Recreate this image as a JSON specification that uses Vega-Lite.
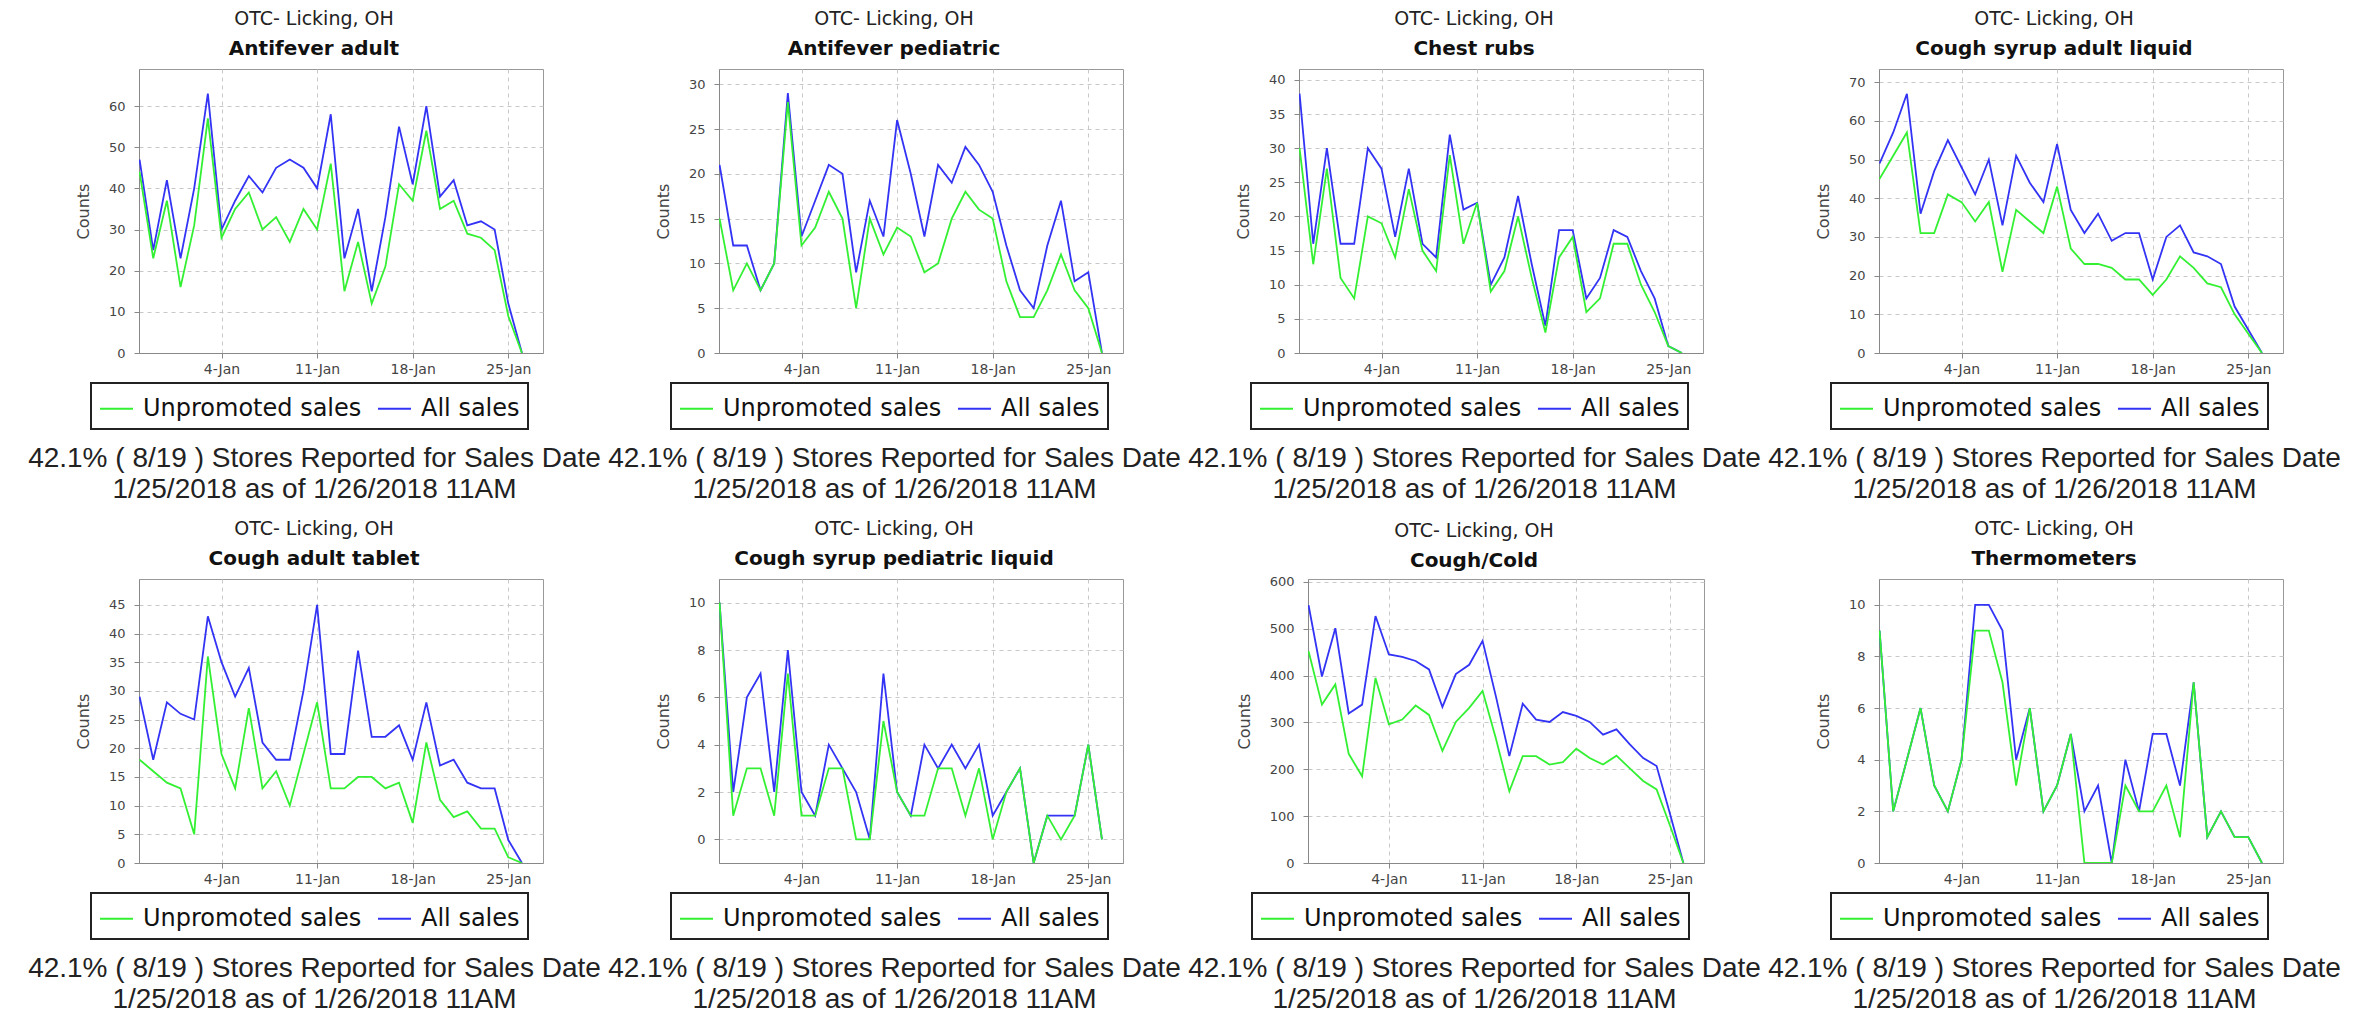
{
"$schema": "https://vega.github.io/schema/vega-lite/v6.json",
"background": "white",
"padding": {"left": 27, "top": 9, "right": 5, "bottom": 2},
"config": {
  "view": {"stroke": "#999999", "strokeWidth": 1},
  "line": {"strokeWidth": 1.8},
  "axis": {"labelFont": "DejaVu Sans", "labelColor": "#444444", "tickColor": "#888888", "tickSize": 5, "domainColor": "#888888", "grid": true, "gridColor": "#c8c8c8", "gridDash": [4, 4], "gridWidth": 1},
  "axisX": {"labelFontSize": 14, "labelPadding": 4, "titleFont": "Liberation Sans", "titleFontSize": 28, "titleFontWeight": "normal", "titleColor": "#222222", "titleLineHeight": 31, "titlePadding": 68, "labelFlush": false},
  "axisY": {"labelFontSize": 13, "labelPadding": 9, "titleFont": "DejaVu Sans", "titleFontSize": 16, "titleFontWeight": "normal", "titleColor": "#444444", "titlePadding": 17},
  "title": {"font": "DejaVu Sans", "fontSize": 19, "fontWeight": "normal", "color": "#222222", "subtitleFont": "DejaVu Sans", "subtitleFontSize": 20, "subtitleFontWeight": "bold", "subtitleColor": "#111111", "subtitlePadding": 10, "offset": 10, "anchor": "middle", "frame": "bounds"},
  "legend": {"orient": "none", "direction": "horizontal", "labelFont": "DejaVu Sans", "labelFontSize": 24, "labelColor": "#111111", "symbolType": "stroke", "symbolSize": 1089, "symbolStrokeWidth": 3, "labelOffset": 9, "columnPadding": 12, "padding": 8, "fillColor": "white", "strokeColor": "#222222", "strokeWidth": 2, "labelLimit": 400}
},
"datasets": {
"p1": [
{"d":"2017-12-29","a":47,"u":44},{"d":"2017-12-30","a":25,"u":23},{"d":"2017-12-31","a":42,"u":37},{"d":"2018-01-01","a":23,"u":16},{"d":"2018-01-02","a":40,"u":31},{"d":"2018-01-03","a":63,"u":57},{"d":"2018-01-04","a":30,"u":28},{"d":"2018-01-05","a":37,"u":35},{"d":"2018-01-06","a":43,"u":39},{"d":"2018-01-07","a":39,"u":30},{"d":"2018-01-08","a":45,"u":33},{"d":"2018-01-09","a":47,"u":27},{"d":"2018-01-10","a":45,"u":35},{"d":"2018-01-11","a":40,"u":30},{"d":"2018-01-12","a":58,"u":46},{"d":"2018-01-13","a":23,"u":15},{"d":"2018-01-14","a":35,"u":27},{"d":"2018-01-15","a":15,"u":12},{"d":"2018-01-16","a":33,"u":21},{"d":"2018-01-17","a":55,"u":41},{"d":"2018-01-18","a":41,"u":37},{"d":"2018-01-19","a":60,"u":54},{"d":"2018-01-20","a":38,"u":35},{"d":"2018-01-21","a":42,"u":37},{"d":"2018-01-22","a":31,"u":29},{"d":"2018-01-23","a":32,"u":28},{"d":"2018-01-24","a":30,"u":25},{"d":"2018-01-25","a":12,"u":9},{"d":"2018-01-26","a":0,"u":0}],
"p2": [
{"d":"2017-12-29","a":21,"u":15},{"d":"2017-12-30","a":12,"u":7},{"d":"2017-12-31","a":12,"u":10},{"d":"2018-01-01","a":7,"u":7},{"d":"2018-01-02","a":10,"u":10},{"d":"2018-01-03","a":29,"u":28},{"d":"2018-01-04","a":13,"u":12},{"d":"2018-01-05","a":17,"u":14},{"d":"2018-01-06","a":21,"u":18},{"d":"2018-01-07","a":20,"u":15},{"d":"2018-01-08","a":9,"u":5},{"d":"2018-01-09","a":17,"u":15},{"d":"2018-01-10","a":13,"u":11},{"d":"2018-01-11","a":26,"u":14},{"d":"2018-01-12","a":20,"u":13},{"d":"2018-01-13","a":13,"u":9},{"d":"2018-01-14","a":21,"u":10},{"d":"2018-01-15","a":19,"u":15},{"d":"2018-01-16","a":23,"u":18},{"d":"2018-01-17","a":21,"u":16},{"d":"2018-01-18","a":18,"u":15},{"d":"2018-01-19","a":12,"u":8},{"d":"2018-01-20","a":7,"u":4},{"d":"2018-01-21","a":5,"u":4},{"d":"2018-01-22","a":12,"u":7},{"d":"2018-01-23","a":17,"u":11},{"d":"2018-01-24","a":8,"u":7},{"d":"2018-01-25","a":9,"u":5},{"d":"2018-01-26","a":0,"u":0}],
"p3": [
{"d":"2017-12-29","a":38,"u":30},{"d":"2017-12-30","a":16,"u":13},{"d":"2017-12-31","a":30,"u":27},{"d":"2018-01-01","a":16,"u":11},{"d":"2018-01-02","a":16,"u":8},{"d":"2018-01-03","a":30,"u":20},{"d":"2018-01-04","a":27,"u":19},{"d":"2018-01-05","a":17,"u":14},{"d":"2018-01-06","a":27,"u":24},{"d":"2018-01-07","a":16,"u":15},{"d":"2018-01-08","a":14,"u":12},{"d":"2018-01-09","a":32,"u":29},{"d":"2018-01-10","a":21,"u":16},{"d":"2018-01-11","a":22,"u":22},{"d":"2018-01-12","a":10,"u":9},{"d":"2018-01-13","a":14,"u":12},{"d":"2018-01-14","a":23,"u":20},{"d":"2018-01-15","a":13,"u":11},{"d":"2018-01-16","a":4,"u":3},{"d":"2018-01-17","a":18,"u":14},{"d":"2018-01-18","a":18,"u":17},{"d":"2018-01-19","a":8,"u":6},{"d":"2018-01-20","a":11,"u":8},{"d":"2018-01-21","a":18,"u":16},{"d":"2018-01-22","a":17,"u":16},{"d":"2018-01-23","a":12,"u":10},{"d":"2018-01-24","a":8,"u":6},{"d":"2018-01-25","a":1,"u":1},{"d":"2018-01-26","a":0,"u":0}],
"p4": [
{"d":"2017-12-29","a":49,"u":45},{"d":"2017-12-30","a":57,"u":51},{"d":"2017-12-31","a":67,"u":57},{"d":"2018-01-01","a":36,"u":31},{"d":"2018-01-02","a":47,"u":31},{"d":"2018-01-03","a":55,"u":41},{"d":"2018-01-04","a":48,"u":39},{"d":"2018-01-05","a":41,"u":34},{"d":"2018-01-06","a":50,"u":39},{"d":"2018-01-07","a":33,"u":21},{"d":"2018-01-08","a":51,"u":37},{"d":"2018-01-09","a":44,"u":34},{"d":"2018-01-10","a":39,"u":31},{"d":"2018-01-11","a":54,"u":43},{"d":"2018-01-12","a":37,"u":27},{"d":"2018-01-13","a":31,"u":23},{"d":"2018-01-14","a":36,"u":23},{"d":"2018-01-15","a":29,"u":22},{"d":"2018-01-16","a":31,"u":19},{"d":"2018-01-17","a":31,"u":19},{"d":"2018-01-18","a":19,"u":15},{"d":"2018-01-19","a":30,"u":19},{"d":"2018-01-20","a":33,"u":25},{"d":"2018-01-21","a":26,"u":22},{"d":"2018-01-22","a":25,"u":18},{"d":"2018-01-23","a":23,"u":17},{"d":"2018-01-24","a":12,"u":10},{"d":"2018-01-25","a":6,"u":5},{"d":"2018-01-26","a":0,"u":0}],
"p5": [
{"d":"2017-12-29","a":29,"u":18},{"d":"2017-12-30","a":18,"u":16},{"d":"2017-12-31","a":28,"u":14},{"d":"2018-01-01","a":26,"u":13},{"d":"2018-01-02","a":25,"u":5},{"d":"2018-01-03","a":43,"u":36},{"d":"2018-01-04","a":35,"u":19},{"d":"2018-01-05","a":29,"u":13},{"d":"2018-01-06","a":34,"u":27},{"d":"2018-01-07","a":21,"u":13},{"d":"2018-01-08","a":18,"u":16},{"d":"2018-01-09","a":18,"u":10},{"d":"2018-01-10","a":30,"u":19},{"d":"2018-01-11","a":45,"u":28},{"d":"2018-01-12","a":19,"u":13},{"d":"2018-01-13","a":19,"u":13},{"d":"2018-01-14","a":37,"u":15},{"d":"2018-01-15","a":22,"u":15},{"d":"2018-01-16","a":22,"u":13},{"d":"2018-01-17","a":24,"u":14},{"d":"2018-01-18","a":18,"u":7},{"d":"2018-01-19","a":28,"u":21},{"d":"2018-01-20","a":17,"u":11},{"d":"2018-01-21","a":18,"u":8},{"d":"2018-01-22","a":14,"u":9},{"d":"2018-01-23","a":13,"u":6},{"d":"2018-01-24","a":13,"u":6},{"d":"2018-01-25","a":4,"u":1},{"d":"2018-01-26","a":0,"u":0}],
"p6": [
{"d":"2017-12-29","a":10,"u":10},{"d":"2017-12-30","a":2,"u":1},{"d":"2017-12-31","a":6,"u":3},{"d":"2018-01-01","a":7,"u":3},{"d":"2018-01-02","a":2,"u":1},{"d":"2018-01-03","a":8,"u":7},{"d":"2018-01-04","a":2,"u":1},{"d":"2018-01-05","a":1,"u":1},{"d":"2018-01-06","a":4,"u":3},{"d":"2018-01-07","a":3,"u":3},{"d":"2018-01-08","a":2,"u":0},{"d":"2018-01-09","a":0,"u":0},{"d":"2018-01-10","a":7,"u":5},{"d":"2018-01-11","a":2,"u":2},{"d":"2018-01-12","a":1,"u":1},{"d":"2018-01-13","a":4,"u":1},{"d":"2018-01-14","a":3,"u":3},{"d":"2018-01-15","a":4,"u":3},{"d":"2018-01-16","a":3,"u":1},{"d":"2018-01-17","a":4,"u":3},{"d":"2018-01-18","a":1,"u":0},{"d":"2018-01-19","a":2,"u":2},{"d":"2018-01-20","a":3,"u":3},{"d":"2018-01-21","a":-1,"u":-1},{"d":"2018-01-22","a":1,"u":1},{"d":"2018-01-23","a":1,"u":0},{"d":"2018-01-24","a":1,"u":1},{"d":"2018-01-25","a":4,"u":4},{"d":"2018-01-26","a":0,"u":0}],
"p7": [
{"d":"2017-12-29","a":550,"u":452},{"d":"2017-12-30","a":398,"u":338},{"d":"2017-12-31","a":501,"u":381},{"d":"2018-01-01","a":319,"u":233},{"d":"2018-01-02","a":338,"u":185},{"d":"2018-01-03","a":527,"u":395},{"d":"2018-01-04","a":445,"u":296},{"d":"2018-01-05","a":440,"u":306},{"d":"2018-01-06","a":431,"u":336},{"d":"2018-01-07","a":413,"u":316},{"d":"2018-01-08","a":333,"u":239},{"d":"2018-01-09","a":403,"u":301},{"d":"2018-01-10","a":423,"u":331},{"d":"2018-01-11","a":474,"u":367},{"d":"2018-01-12","a":355,"u":265},{"d":"2018-01-13","a":228,"u":153},{"d":"2018-01-14","a":340,"u":228},{"d":"2018-01-15","a":306,"u":228},{"d":"2018-01-16","a":301,"u":210},{"d":"2018-01-17","a":322,"u":215},{"d":"2018-01-18","a":314,"u":244},{"d":"2018-01-19","a":301,"u":224},{"d":"2018-01-20","a":274,"u":210},{"d":"2018-01-21","a":285,"u":229},{"d":"2018-01-22","a":253,"u":202},{"d":"2018-01-23","a":224,"u":175},{"d":"2018-01-24","a":207,"u":157},{"d":"2018-01-25","a":105,"u":80},{"d":"2018-01-26","a":0,"u":0}],
"p8": [
{"d":"2017-12-29","a":9,"u":9},{"d":"2017-12-30","a":2,"u":2},{"d":"2017-12-31","a":4,"u":4},{"d":"2018-01-01","a":6,"u":6},{"d":"2018-01-02","a":3,"u":3},{"d":"2018-01-03","a":2,"u":2},{"d":"2018-01-04","a":4,"u":4},{"d":"2018-01-05","a":10,"u":9},{"d":"2018-01-06","a":10,"u":9},{"d":"2018-01-07","a":9,"u":7},{"d":"2018-01-08","a":4,"u":3},{"d":"2018-01-09","a":6,"u":6},{"d":"2018-01-10","a":2,"u":2},{"d":"2018-01-11","a":3,"u":3},{"d":"2018-01-12","a":5,"u":5},{"d":"2018-01-13","a":2,"u":0},{"d":"2018-01-14","a":3,"u":0},{"d":"2018-01-15","a":0,"u":0},{"d":"2018-01-16","a":4,"u":3},{"d":"2018-01-17","a":2,"u":2},{"d":"2018-01-18","a":5,"u":2},{"d":"2018-01-19","a":5,"u":3},{"d":"2018-01-20","a":3,"u":1},{"d":"2018-01-21","a":7,"u":7},{"d":"2018-01-22","a":1,"u":1},{"d":"2018-01-23","a":2,"u":2},{"d":"2018-01-24","a":1,"u":1},{"d":"2018-01-25","a":1,"u":1},{"d":"2018-01-26","a":0,"u":0}]
},
"spacing": 15,
"resolve": {"scale": {"x": "independent", "y": "independent", "color": "independent"}, "legend": {"color": "independent"}},
"vconcat": [
{"spacing": 6,
 "resolve": {"scale": {"x": "independent", "y": "independent", "color": "independent"}, "legend": {"color": "independent"}},
 "hconcat": [
 {"width": 404, "height": 284, "title": {"text": "OTC- Licking, OH", "subtitle": "Antifever adult"}, "data": {"name": "p1"},
  "transform": [{"fold": ["a", "u"], "as": ["s", "v"]}],
  "mark": {"type": "line", "clip": true},
  "encoding": {
   "x": {"field": "d", "type": "temporal", "scale": {"type": "utc", "domain": [{"year": 2017, "month": 12, "date": 28, "hours": 23, "utc": true}, {"year": 2018, "month": 1, "date": 27, "hours": 13, "utc": true}]}, "axis": {"values": [{"year": 2018, "month": 1, "date": 4, "utc": true}, {"year": 2018, "month": 1, "date": 11, "utc": true}, {"year": 2018, "month": 1, "date": 18, "utc": true}, {"year": 2018, "month": 1, "date": 25, "utc": true}], "format": "%-d-%b", "title": ["42.1% ( 8/19 ) Stores Reported for Sales Date", "1/25/2018 as of 1/26/2018 11AM"], "titleX": 175}},
   "y": {"field": "v", "type": "quantitative", "title": "Counts", "scale": {"domain": [0, 69], "nice": false, "zero": false}, "axis": {"values": [0, 10, 20, 30, 40, 50, 60]}},
   "color": {"field": "s", "type": "nominal", "scale": {"domain": ["u", "a"], "range": ["#33f033", "#3333f5"]}, "legend": {"title": null, "legendX": -48, "legendY": 314, "labelExpr": "datum.label == 'u' ? 'Unpromoted sales' : 'All sales'"}}
  }},
 {"width": 404, "height": 284, "title": {"text": "OTC- Licking, OH", "subtitle": "Antifever pediatric"}, "data": {"name": "p2"},
  "transform": [{"fold": ["a", "u"], "as": ["s", "v"]}],
  "mark": {"type": "line", "clip": true},
  "encoding": {
   "x": {"field": "d", "type": "temporal", "scale": {"type": "utc", "domain": [{"year": 2017, "month": 12, "date": 28, "hours": 23, "utc": true}, {"year": 2018, "month": 1, "date": 27, "hours": 13, "utc": true}]}, "axis": {"values": [{"year": 2018, "month": 1, "date": 4, "utc": true}, {"year": 2018, "month": 1, "date": 11, "utc": true}, {"year": 2018, "month": 1, "date": 18, "utc": true}, {"year": 2018, "month": 1, "date": 25, "utc": true}], "format": "%-d-%b", "title": ["42.1% ( 8/19 ) Stores Reported for Sales Date", "1/25/2018 as of 1/26/2018 11AM"], "titleX": 175}},
   "y": {"field": "v", "type": "quantitative", "title": "Counts", "scale": {"domain": [0, 31.7], "nice": false, "zero": false}, "axis": {"values": [0, 5, 10, 15, 20, 25, 30]}},
   "color": {"field": "s", "type": "nominal", "scale": {"domain": ["u", "a"], "range": ["#33f033", "#3333f5"]}, "legend": {"title": null, "legendX": -48, "legendY": 314, "labelExpr": "datum.label == 'u' ? 'Unpromoted sales' : 'All sales'"}}
  }},
 {"width": 404, "height": 284, "title": {"text": "OTC- Licking, OH", "subtitle": "Chest rubs"}, "data": {"name": "p3"},
  "transform": [{"fold": ["a", "u"], "as": ["s", "v"]}],
  "mark": {"type": "line", "clip": true},
  "encoding": {
   "x": {"field": "d", "type": "temporal", "scale": {"type": "utc", "domain": [{"year": 2017, "month": 12, "date": 28, "hours": 23, "utc": true}, {"year": 2018, "month": 1, "date": 27, "hours": 13, "utc": true}]}, "axis": {"values": [{"year": 2018, "month": 1, "date": 4, "utc": true}, {"year": 2018, "month": 1, "date": 11, "utc": true}, {"year": 2018, "month": 1, "date": 18, "utc": true}, {"year": 2018, "month": 1, "date": 25, "utc": true}], "format": "%-d-%b", "title": ["42.1% ( 8/19 ) Stores Reported for Sales Date", "1/25/2018 as of 1/26/2018 11AM"], "titleX": 175}},
   "y": {"field": "v", "type": "quantitative", "title": "Counts", "scale": {"domain": [0, 41.6], "nice": false, "zero": false}, "axis": {"values": [0, 5, 10, 15, 20, 25, 30, 35, 40]}},
   "color": {"field": "s", "type": "nominal", "scale": {"domain": ["u", "a"], "range": ["#33f033", "#3333f5"]}, "legend": {"title": null, "legendX": -48, "legendY": 314, "labelExpr": "datum.label == 'u' ? 'Unpromoted sales' : 'All sales'"}}
  }},
 {"width": 404, "height": 284, "title": {"text": "OTC- Licking, OH", "subtitle": "Cough syrup adult liquid"}, "data": {"name": "p4"},
  "transform": [{"fold": ["a", "u"], "as": ["s", "v"]}],
  "mark": {"type": "line", "clip": true},
  "encoding": {
   "x": {"field": "d", "type": "temporal", "scale": {"type": "utc", "domain": [{"year": 2017, "month": 12, "date": 28, "hours": 23, "utc": true}, {"year": 2018, "month": 1, "date": 27, "hours": 13, "utc": true}]}, "axis": {"values": [{"year": 2018, "month": 1, "date": 4, "utc": true}, {"year": 2018, "month": 1, "date": 11, "utc": true}, {"year": 2018, "month": 1, "date": 18, "utc": true}, {"year": 2018, "month": 1, "date": 25, "utc": true}], "format": "%-d-%b", "title": ["42.1% ( 8/19 ) Stores Reported for Sales Date", "1/25/2018 as of 1/26/2018 11AM"], "titleX": 175}},
   "y": {"field": "v", "type": "quantitative", "title": "Counts", "scale": {"domain": [0, 73.4], "nice": false, "zero": false}, "axis": {"values": [0, 10, 20, 30, 40, 50, 60, 70]}},
   "color": {"field": "s", "type": "nominal", "scale": {"domain": ["u", "a"], "range": ["#33f033", "#3333f5"]}, "legend": {"title": null, "legendX": -48, "legendY": 314, "labelExpr": "datum.label == 'u' ? 'Unpromoted sales' : 'All sales'"}}
  }}
 ]},
{"spacing": 6,
 "resolve": {"scale": {"x": "independent", "y": "independent", "color": "independent"}, "legend": {"color": "independent"}},
 "hconcat": [
 {"width": 404, "height": 284, "title": {"text": "OTC- Licking, OH", "subtitle": "Cough adult tablet"}, "data": {"name": "p5"},
  "transform": [{"fold": ["a", "u"], "as": ["s", "v"]}],
  "mark": {"type": "line", "clip": true},
  "encoding": {
   "x": {"field": "d", "type": "temporal", "scale": {"type": "utc", "domain": [{"year": 2017, "month": 12, "date": 28, "hours": 23, "utc": true}, {"year": 2018, "month": 1, "date": 27, "hours": 13, "utc": true}]}, "axis": {"values": [{"year": 2018, "month": 1, "date": 4, "utc": true}, {"year": 2018, "month": 1, "date": 11, "utc": true}, {"year": 2018, "month": 1, "date": 18, "utc": true}, {"year": 2018, "month": 1, "date": 25, "utc": true}], "format": "%-d-%b", "title": ["42.1% ( 8/19 ) Stores Reported for Sales Date", "1/25/2018 as of 1/26/2018 11AM"], "titleX": 175}},
   "y": {"field": "v", "type": "quantitative", "title": "Counts", "scale": {"domain": [0, 49.5], "nice": false, "zero": false}, "axis": {"values": [0, 5, 10, 15, 20, 25, 30, 35, 40, 45]}},
   "color": {"field": "s", "type": "nominal", "scale": {"domain": ["u", "a"], "range": ["#33f033", "#3333f5"]}, "legend": {"title": null, "legendX": -48, "legendY": 314, "labelExpr": "datum.label == 'u' ? 'Unpromoted sales' : 'All sales'"}}
  }},
 {"width": 404, "height": 284, "title": {"text": "OTC- Licking, OH", "subtitle": "Cough syrup pediatric liquid"}, "data": {"name": "p6"},
  "transform": [{"fold": ["a", "u"], "as": ["s", "v"]}],
  "mark": {"type": "line", "clip": true},
  "encoding": {
   "x": {"field": "d", "type": "temporal", "scale": {"type": "utc", "domain": [{"year": 2017, "month": 12, "date": 28, "hours": 23, "utc": true}, {"year": 2018, "month": 1, "date": 27, "hours": 13, "utc": true}]}, "axis": {"values": [{"year": 2018, "month": 1, "date": 4, "utc": true}, {"year": 2018, "month": 1, "date": 11, "utc": true}, {"year": 2018, "month": 1, "date": 18, "utc": true}, {"year": 2018, "month": 1, "date": 25, "utc": true}], "format": "%-d-%b", "title": ["42.1% ( 8/19 ) Stores Reported for Sales Date", "1/25/2018 as of 1/26/2018 11AM"], "titleX": 175}},
   "y": {"field": "v", "type": "quantitative", "title": "Counts", "scale": {"domain": [-1, 11], "nice": false, "zero": false}, "axis": {"values": [0, 2, 4, 6, 8, 10]}},
   "color": {"field": "s", "type": "nominal", "scale": {"domain": ["u", "a"], "range": ["#33f033", "#3333f5"]}, "legend": {"title": null, "legendX": -48, "legendY": 314, "labelExpr": "datum.label == 'u' ? 'Unpromoted sales' : 'All sales'"}}
  }},
 {"width": 396, "height": 284, "title": {"text": "OTC- Licking, OH", "subtitle": "Cough/Cold", "offset": 5}, "data": {"name": "p7"},
  "transform": [{"fold": ["a", "u"], "as": ["s", "v"]}],
  "mark": {"type": "line", "clip": true},
  "encoding": {
   "x": {"field": "d", "type": "temporal", "scale": {"type": "utc", "domain": [{"year": 2017, "month": 12, "date": 28, "hours": 23, "utc": true}, {"year": 2018, "month": 1, "date": 27, "hours": 13, "utc": true}]}, "axis": {"values": [{"year": 2018, "month": 1, "date": 4, "utc": true}, {"year": 2018, "month": 1, "date": 11, "utc": true}, {"year": 2018, "month": 1, "date": 18, "utc": true}, {"year": 2018, "month": 1, "date": 25, "utc": true}], "format": "%-d-%b", "title": ["42.1% ( 8/19 ) Stores Reported for Sales Date", "1/25/2018 as of 1/26/2018 11AM"], "titleX": 166}},
   "y": {"field": "v", "type": "quantitative", "title": "Counts", "scale": {"domain": [0, 606], "nice": false, "zero": false}, "axis": {"values": [0, 100, 200, 300, 400, 500, 600]}},
   "color": {"field": "s", "type": "nominal", "scale": {"domain": ["u", "a"], "range": ["#33f033", "#3333f5"]}, "legend": {"title": null, "legendX": -56, "legendY": 314, "labelExpr": "datum.label == 'u' ? 'Unpromoted sales' : 'All sales'"}}
  }},
 {"width": 404, "height": 284, "title": {"text": "OTC- Licking, OH", "subtitle": "Thermometers"}, "data": {"name": "p8"},
  "transform": [{"fold": ["a", "u"], "as": ["s", "v"]}],
  "mark": {"type": "line", "clip": true},
  "encoding": {
   "x": {"field": "d", "type": "temporal", "scale": {"type": "utc", "domain": [{"year": 2017, "month": 12, "date": 28, "hours": 23, "utc": true}, {"year": 2018, "month": 1, "date": 27, "hours": 13, "utc": true}]}, "axis": {"values": [{"year": 2018, "month": 1, "date": 4, "utc": true}, {"year": 2018, "month": 1, "date": 11, "utc": true}, {"year": 2018, "month": 1, "date": 18, "utc": true}, {"year": 2018, "month": 1, "date": 25, "utc": true}], "format": "%-d-%b", "title": ["42.1% ( 8/19 ) Stores Reported for Sales Date", "1/25/2018 as of 1/26/2018 11AM"], "titleX": 175}},
   "y": {"field": "v", "type": "quantitative", "title": "Counts", "scale": {"domain": [0, 11], "nice": false, "zero": false}, "axis": {"values": [0, 2, 4, 6, 8, 10]}},
   "color": {"field": "s", "type": "nominal", "scale": {"domain": ["u", "a"], "range": ["#33f033", "#3333f5"]}, "legend": {"title": null, "legendX": -48, "legendY": 314, "labelExpr": "datum.label == 'u' ? 'Unpromoted sales' : 'All sales'"}}
  }}
 ]}
]
}
